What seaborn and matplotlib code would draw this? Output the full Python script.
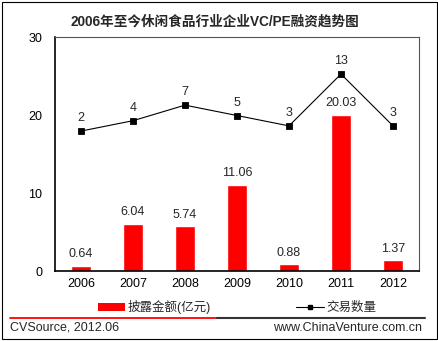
import matplotlib
matplotlib.use("Agg")
import matplotlib.pyplot as plt
import seaborn as sns
import pandas as pd
import numpy as np
from matplotlib.patches import Rectangle, Patch
from matplotlib.lines import Line2D

years = ["2006", "2007", "2008", "2009", "2010", "2011", "2012"]
amounts = [0.64, 6.04, 5.74, 11.06, 0.88, 20.03, 1.37]
deals = [2, 4, 7, 5, 3, 13, 3]
amount_labels = ["0.64", "6.04", "5.74", "11.06", "0.88", "20.03", "1.37"]
title = "2006年至今休闲食品行业企业VC/PE融资趋势图"
series_names = ["披露金额(亿元)", "交易数量"]
yticks = [0, 10, 20, 30]

sns.set_theme(style="white")
plt.rcParams['font.family'] = ['Liberation Sans', 'Noto Sans CJK SC', 'DejaVu Sans']

FS = 9
df = pd.DataFrame({"year": years, "amount": amounts, "deals": deals})

fig = plt.figure(figsize=(4.39, 3.41), dpi=100)
fig.patch.set_facecolor("white")
ax = fig.add_axes([55/439, 1-271/341, (419-55)/439, (271-37)/341])

sns.barplot(data=df, x="year", y="amount", color="#FF0000", width=0.4,
            saturation=1, ax=ax)
ax.set_xlim(-0.5, 6.5)
ax.set_ylim(0, 30)
ax.set_yticks(yticks)
ax.set_xlabel("")
ax.set_ylabel("")
ax.tick_params(axis="both", length=0, labelsize=FS, colors="black")
ax.tick_params(axis="y", pad=9)
ax.tick_params(axis="x", pad=5)
for s in ["left", "bottom"]:
    ax.spines[s].set_color("black")
    ax.spines[s].set_linewidth(1.2)
for s in ["top", "right"]:
    ax.spines[s].set_color("#555555")
    ax.spines[s].set_linewidth(0.8)
ax.bar_label(ax.containers[0], labels=amount_labels, padding=4, fontsize=FS)

ax2 = ax.twinx()
sns.pointplot(data=df, x="year", y="deals", color="black", markers="s",
              markersize=4, linewidth=0.8, ax=ax2)
ax2.set_xlim(-0.5, 6.5)
ax2.set_ylim(-25.0, 20.15)
ax2.set_yticks([])
ax2.set_ylabel("")
ax2.set_xlabel("")
for s in ax2.spines.values():
    s.set_visible(False)
for i, v in enumerate(deals):
    ax2.annotate(str(v), (i, v), xytext=(0, 5), textcoords="offset points",
                 ha="center", va="bottom", fontsize=FS)

fig.text(215/439, 1-22/341, title, ha="center", va="center", fontsize=9.8,
         fontweight="bold", family=['Liberation Sans', 'Noto Sans CJK SC'])

handles = [Patch(facecolor="#FF0000", edgecolor="none"),
           Line2D([], [], color="black", marker="s", markersize=3.5, linewidth=0.8)]
fig.legend(handles, series_names, loc="center", bbox_to_anchor=(237/439, 1-307/341),
           ncol=2, frameon=False, fontsize=FS, handlelength=2.2, handleheight=0.6,
           columnspacing=6.8, handletextpad=0.2)

fig.add_artist(Line2D([10/439, 217/439], [1-318/341]*2, color="#FF0000", lw=1.3,
                      transform=fig.transFigure, zorder=10))
fig.add_artist(Line2D([217/439, 425/439], [1-318/341]*2, color="#333333", lw=1.5,
                      transform=fig.transFigure, zorder=10))
fig.text(10/439, 1-328/341, "CVSource, 2012.06", ha="left", va="center", fontsize=FS)
fig.text(422/439, 1-328/341, "www.ChinaVenture.com.cn", ha="right", va="center", fontsize=FS)

fig.add_artist(Rectangle((2/439, 1-339/341), 435/439, 337/341, fill=False,
                         edgecolor="black", lw=0.8, transform=fig.transFigure))

fig.savefig("out.png", dpi=100)
